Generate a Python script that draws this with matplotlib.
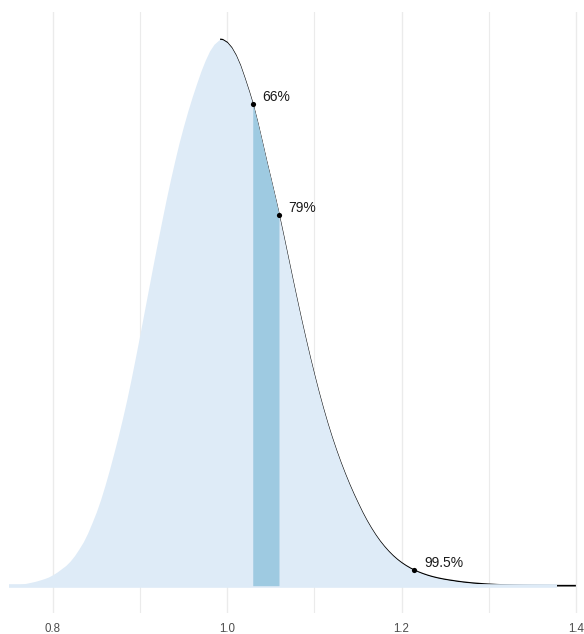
import numpy as np
import matplotlib
matplotlib.use("Agg")
import matplotlib.pyplot as plt

plt.rcParams['font.family'] = ['Liberation Sans', 'DejaVu Sans']

# density curve (x value, density relative to the peak)
curve_x = [0.750, 0.755, 0.760, 0.765, 0.770, 0.775, 0.780, 0.785, 0.790, 0.795,
           0.800, 0.805, 0.810, 0.815, 0.820, 0.825, 0.830, 0.835, 0.840, 0.845,
           0.850, 0.855, 0.860, 0.865, 0.870, 0.875, 0.880, 0.885, 0.890, 0.895,
           0.900, 0.905, 0.910, 0.915, 0.920, 0.925, 0.930, 0.935, 0.940, 0.945,
           0.950, 0.955, 0.960, 0.965, 0.970, 0.975, 0.980, 0.985, 0.990, 0.992,
           0.995, 1.000, 1.005, 1.010, 1.015, 1.020, 1.025, 1.0294, 1.030, 1.035,
           1.040, 1.045, 1.050, 1.055, 1.0595, 1.060, 1.065, 1.070, 1.075, 1.080,
           1.085, 1.090, 1.095, 1.100, 1.105, 1.110, 1.115, 1.120, 1.125, 1.130,
           1.135, 1.140, 1.145, 1.150, 1.155, 1.160, 1.165, 1.170, 1.175, 1.180,
           1.185, 1.190, 1.195, 1.200, 1.205, 1.210, 1.215, 1.220, 1.225, 1.230,
           1.235, 1.240, 1.245, 1.250, 1.255, 1.260, 1.265, 1.270, 1.275, 1.280,
           1.285, 1.290, 1.295, 1.300, 1.310, 1.320, 1.330, 1.340, 1.350, 1.360,
           1.370, 1.378, 1.400]
curve_y = [0.0000, 0.0008, 0.0017, 0.0030, 0.0045, 0.0062, 0.0080, 0.0103, 0.0128, 0.0158,
           0.0200, 0.0250, 0.0310, 0.0370, 0.0450, 0.0550, 0.0670, 0.0800, 0.0960, 0.1150,
           0.1350, 0.1580, 0.1840, 0.2120, 0.2420, 0.2730, 0.3060, 0.3410, 0.3790, 0.4190,
           0.4600, 0.5020, 0.5440, 0.5860, 0.6270, 0.6670, 0.7060, 0.7430, 0.7780, 0.8110,
           0.8410, 0.8690, 0.8950, 0.9190, 0.9420, 0.9620, 0.9790, 0.9910, 0.9980, 1.0000,
           0.9992, 0.9942, 0.9848, 0.9708, 0.9524, 0.9294, 0.9050, 0.8820, 0.8780, 0.8465,
           0.8125, 0.7775, 0.7443, 0.7103, 0.6790, 0.6748, 0.6376, 0.5994, 0.5612, 0.5237,
           0.4872, 0.4520, 0.4180, 0.3855, 0.3545, 0.3253, 0.2978, 0.2723, 0.2486, 0.2264,
           0.2057, 0.1862, 0.1680, 0.1510, 0.1345, 0.1195, 0.1058, 0.0933, 0.0820, 0.0720,
           0.0630, 0.0550, 0.0480, 0.0419, 0.0366, 0.0320, 0.0280, 0.0245, 0.0215, 0.0188,
           0.0165, 0.0145, 0.0128, 0.0113, 0.0100, 0.0088, 0.0076, 0.0066, 0.0057, 0.0049,
           0.0042, 0.0036, 0.0030, 0.0025, 0.0017, 0.0012, 0.0008, 0.0005, 0.0003, 0.0002,
           0.0001, 0.0000, 0.0000]

mode_x = 0.992
band_lo = 1.0294
band_hi = 1.0595

quant_x = [1.0294, 1.0595, 1.2147]
quant_labels = ["66%", "79%", "99.5%"]

major_ticks = [0.8, 1.0, 1.2, 1.4]
major_labels = ["0.8", "1.0", "1.2", "1.4"]
minor_ticks = [0.9, 1.1, 1.3]

cx = np.array(curve_x)
cy = np.array(curve_y)

W, H = 584, 634
fig = plt.figure(figsize=(W / 100, H / 100), dpi=100)
ax = fig.add_axes([0, 21 / H, 1, 601 / H])

light = "#deebf7"
dark = "#9ecae1"

# right-hand outline, drawn beneath the fill so only its outer half shows
m = cx >= mode_x
ax.plot(cx[m], cy[m], color="black", lw=1.2, zorder=2, solid_capstyle="butt")

ax.fill_between(cx, 0, cy, color=light, lw=0, zorder=3)
fill_end = cx[np.nonzero(cy)[0][-1] + 1]
ax.hlines(0, cx[0], fill_end, color=light, lw=2.6, zorder=3)
b = (cx >= band_lo) & (cx <= band_hi)
ax.fill_between(cx[b], 0, cy[b], color=dark, lw=0, zorder=4)

qy = np.interp(quant_x, cx, cy)
ax.scatter(quant_x, qy, s=14, color="black", zorder=6, lw=0)
for xq, yq, lab in zip(quant_x, qy, quant_labels):
    ax.annotate(lab, (xq, yq), xytext=(7, 5.0), textcoords="offset points",
                ha="left", va="center", fontsize=10, color="#1a1a1a", zorder=7)

ax.set_xlim(0.8 - 52.7 / 872, 0.8 + (W - 52.7) / 872)
ax.set_ylim(-0.05, 1.05)

ax.set_xticks(major_ticks)
ax.set_xticklabels(major_labels)
ax.set_xticks(minor_ticks, minor=True)
ax.set_yticks([])
ax.tick_params(axis="x", which="both", length=0, pad=7, labelsize=8.3, labelcolor="#4d4d4d")
ax.grid(True, axis="x", which="major", color="#ebebeb", lw=1.0, zorder=0)
ax.grid(True, axis="x", which="minor", color="#ebebeb", lw=0.8, zorder=0)
ax.set_axisbelow(True)
for s in ax.spines.values():
    s.set_visible(False)
ax.patch.set_alpha(0)

fig.savefig("out.png", dpi=100)
